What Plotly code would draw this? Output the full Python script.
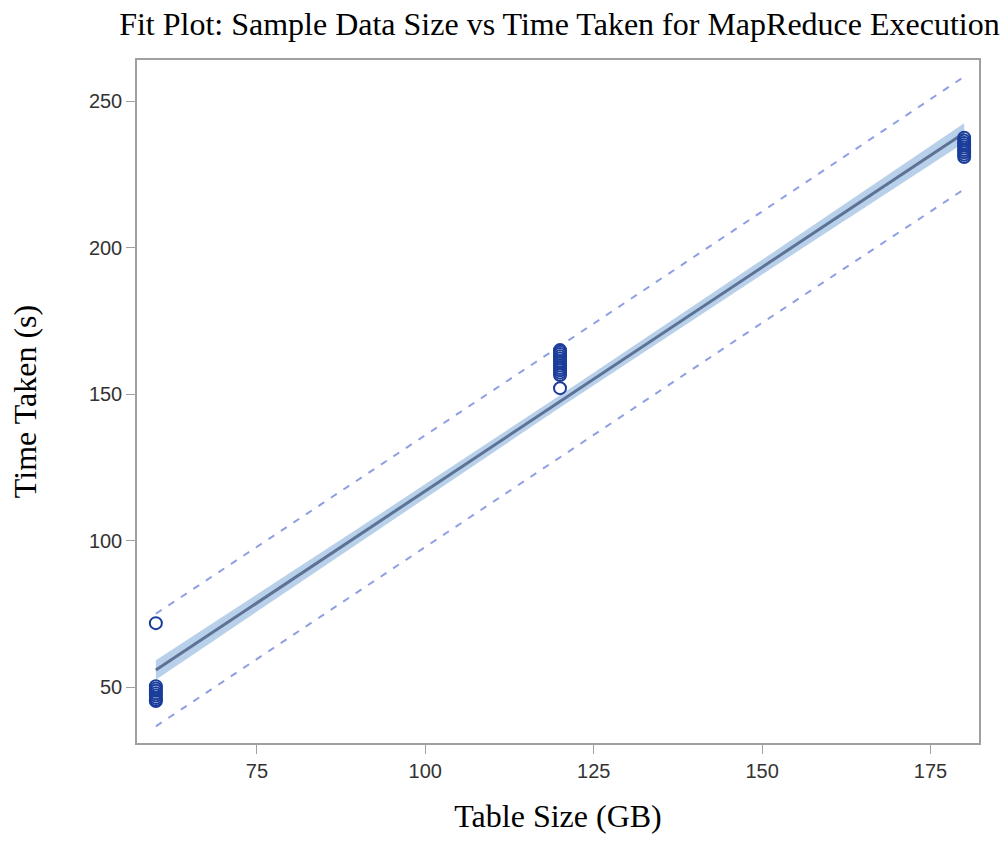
import plotly.graph_objects as go

# Observed runs: table size (GB) and time taken (s)
time_60 = [71.8, 50.3, 49.5, 48.7, 47.9, 47.1, 46.3, 45.6, 45.2]
time_120 = [152.0, 156.5, 157.3, 158.1, 158.9, 159.7, 160.5, 161.3, 162.1,
            162.9, 163.7, 164.4, 165.0]
time_180 = [230.9, 231.7, 232.5, 233.3, 234.1, 234.9, 235.7, 236.5, 237.5]
size_60 = [60] * len(time_60)
size_120 = [120] * len(time_120)
size_180 = [180] * len(time_180)

# Fitted regression line with 95% confidence and prediction limits
fit_x = [60, 90, 120, 150, 180]
fit_y = [55.8, 101.6, 147.5, 193.3, 239.1]
clm_lower = [52.5, 99.1, 145.4, 190.8, 235.8]
clm_upper = [59.1, 104.1, 149.6, 195.8, 242.4]
plm_lower = [36.6, 82.6, 128.6, 174.3, 219.9]
plm_upper = [75.0, 120.6, 166.4, 212.3, 258.3]

x_ticks = [75, 100, 125, 150, 175]
y_ticks = [50, 100, 150, 200, 250]

size_all = size_60 + size_120 + size_180
time_all = time_60 + time_120 + time_180

serif = "Liberation Serif, Times New Roman, serif"
sans = "Liberation Sans, Arial, sans-serif"

fig = go.Figure()

# confidence band
fig.add_trace(go.Scatter(x=fit_x, y=clm_lower, mode="lines",
                         line=dict(width=0), hoverinfo="skip", showlegend=False))
fig.add_trace(go.Scatter(x=fit_x, y=clm_upper, mode="lines",
                         line=dict(width=0), fill="tonexty",
                         fillcolor="rgba(160,192,226,0.75)",
                         hoverinfo="skip", showlegend=False))

# fit line
fig.add_trace(go.Scatter(x=fit_x, y=fit_y, mode="lines",
                         line=dict(color="#5d7396", width=3), showlegend=False))

# prediction limits
for ys in (plm_lower, plm_upper):
    fig.add_trace(go.Scatter(x=fit_x, y=ys, mode="lines",
                             line=dict(color="#8f9fe3", width=2, dash="7px,8px"),
                             showlegend=False))

# observations
fig.add_trace(go.Scatter(x=size_all, y=time_all, mode="markers",
                         marker=dict(symbol="circle-open", size=12,
                                     color="#1a3d9b", line=dict(width=2)),
                         showlegend=False))

axis_common = dict(
    showline=True, linecolor="#a0a0a0", linewidth=1.5, mirror=True,
    ticks="outside", ticklen=9, tickcolor="#a0a0a0", tickwidth=1,
    showgrid=False, zeroline=False,
    tickfont=dict(family=sans, size=20, color="#333333"),
)

fig.update_layout(
    width=1008, height=859,
    paper_bgcolor="white", plot_bgcolor="white",
    margin=dict(l=137, r=29, t=60, b=116),
    title=dict(text="Fit Plot: Sample Data Size vs Time Taken for MapReduce Execution",
               font=dict(family=serif, size=32, color="black"),
               x=0.555, xanchor="center", y=0.972, yanchor="middle"),
    xaxis=dict(range=[57.2, 182.2], tickvals=x_ticks,
               title=dict(text="Table Size (GB)", standoff=24,
                          font=dict(family=serif, size=32, color="black")),
               **axis_common),
    yaxis=dict(range=[30.9, 264.0], tickvals=y_ticks,
               title=dict(text="Time Taken (s)", standoff=43,
                          font=dict(family=serif, size=32, color="black")),
               **axis_common),
)

fig.write_html("out.html")
